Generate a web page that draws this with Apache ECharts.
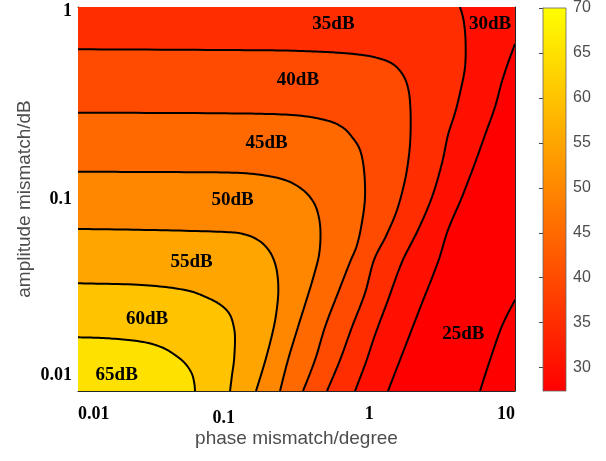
<!DOCTYPE html>
<html><head><meta charset="utf-8">
<script src="https://cdn.jsdelivr.net/npm/echarts@6/dist/echarts.min.js"></script>
<style>html,body{margin:0;padding:0;background:#fff}#c{width:606px;height:461px}</style>
</head><body><div id="c"></div>
<script>
// ---- axis extents and ticks ----
const X_MIN = 0.01, X_MAX = 10, Y_MIN = 0.01, Y_MAX = 1;
const CBAR_MIN = 27.4, CBAR_MAX = 70;
const xTickLabels = [0.01, 0.1, 1, 10];
const yTickLabels = [0.01, 0.1, 1];
const xTicks = [0.01,0.02,0.03,0.04,0.05,0.06,0.07,0.08,0.09,0.1,0.2,0.3,0.4,0.5,0.6,0.7,0.8,0.9,1,2,3,4,5,6,7,8,9,10];
const yTicks = [0.01,0.02,0.03,0.04,0.05,0.06,0.07,0.08,0.09,0.1,0.2,0.3,0.4,0.5,0.6,0.7,0.8,0.9,1];
const cbarTicks = [30,35,40,45,50,55,60,65,70];

// ---- contour levels (dB) and region below the lowest level ----
const levels = [25, 30, 35, 40, 45, 50, 55, 60, 65];
const belowLevel = 25;

// ---- contour lines: [phase mismatch (deg), amplitude mismatch (dB)] ----
const c25 = [[10,0.02979],[8.142,0.02181],[6.737,0.01450],[5.751,0.01]];
const c30 = [[10,0.6420],[8.953,0.5108],[8.077,0.4020],[7.290,0.3014],[6.225,0.2154],[5.313,0.1540],[4.326,0.1024],[3.4674,0.06896],[2.9606,0.04697],[2.2997,0.02873],[1.7577,0.01695],[1.3434,0.01]];
const c35 = [[4.1925,1],[4.4317,0.8556],[4.5739,0.6731],[4.5383,0.4870],[4.1925,0.3565],[3.8737,0.2805],[3.4674,0.2154],[3.1543,0.1540],[2.6929,0.1024],[2.1586,0.06896],[1.6758,0.04697],[1.3434,0.02979],[1.0937,0.01958],[0.9486,0.01416],[0.7975,0.01]];
const c40 = [[0.01,0.6023],[0.1021,0.5970],[0.2945,0.5921],[0.5812,0.5794],[0.8359,0.5657],[1.0937,0.5470],[1.4308,0.5077],[1.7022,0.4423],[1.8569,0.3696],[1.9164,0.2908],[1.9164,0.2154],[1.8715,0.1695],[1.7577,0.1256],[1.5485,0.08764],[1.3017,0.06417],[1.0764,0.04811],[0.9340,0.03238],[0.7603,0.02154],[0.6291,0.01450],[0.5122,0.01]];
const c45 = [[0.01,0.2815],[0.1021,0.2795],[0.2945,0.2738],[0.4962,0.2579],[0.6494,0.2371],[0.7603,0.2103],[0.8628,0.1800],[0.9192,0.1416],[0.9340,0.1024],[0.8907,0.07589],[0.8229,0.05759],[0.7368,0.04697],[0.6596,0.03785],[0.5905,0.03051],[0.4962,0.02154],[0.4236,0.01450],[0.3505,0.01]];
const c50 = [[0.01,0.1387],[0.03121,0.1382],[0.1021,0.1374],[0.1720,0.1341],[0.2636,0.1256],[0.3505,0.1114],[0.4169,0.09532],[0.4513,0.07962],[0.4622,0.06494],[0.4513,0.05109],[0.4169,0.04020],[0.3793,0.03162],[0.3237,0.02154],[0.2764,0.01450],[0.2436,0.01]];
const c55 = [[0.01,0.06981],[0.03121,0.06896],[0.1021,0.06733],[0.1401,0.06533],[0.1720,0.06116],[0.1984,0.05556],[0.2182,0.04929],[0.2324,0.04168],[0.2372,0.03277],[0.2287,0.02488],[0.2147,0.01958],[0.1953,0.01485],[0.1804,0.01211],[0.1667,0.01]];
const c60 = [[0.01,0.03639],[0.02737,0.03566],[0.05428,0.03357],[0.07805,0.03051],[0.09741,0.02772],[0.1106,0.02488],[0.1178,0.02128],[0.1196,0.01843],[0.1178,0.01450],[0.1141,0.01211],[0.1106,0.01]];
const c65 = [[0.01,0.01904],[0.01614,0.01881],[0.02737,0.01806],[0.03755,0.01689],[0.04634,0.01540],[0.05428,0.01394],[0.06034,0.01236],[0.06286,0.01097],[0.06356,0.01]];
const contourLines = [c25, c30, c35, c40, c45, c50, c55, c60, c65];

// ---- band labels: [phase, amplitude, text] ----
const bandLabels = [
  [0.01844, 0.01207, '65dB'],
  [0.02977, 0.02380, '60dB'],
  [0.06015, 0.04697, '55dB'],
  [0.1150, 0.09822, '50dB'],
  [0.1968, 0.1946, '45dB'],
  [0.3237, 0.4167, '40dB'],
  [0.5675, 0.8107, '35dB'],
  [6.737, 0.8155, '30dB'],
  [4.417, 0.01986, '25dB']
];

function fillColor(v) {
  const t = Math.max(0, Math.min(1, (v - CBAR_MIN) / (CBAR_MAX - CBAR_MIN)));
  return 'rgb(255,' + Math.round(255 * t) + ',0)';
}
function densify(pts, n) {
  const out = [];
  const L = pts.length;
  for (let i = 0; i < L - 1; i++) {
    const p0 = pts[Math.max(i - 1, 0)], p1 = pts[i], p2 = pts[i + 1], p3 = pts[Math.min(i + 2, L - 1)];
    for (let k = 0; k < n; k++) {
      const t = k / n, t2 = t * t, t3 = t2 * t;
      const f = (a, b, c, d) => 0.5 * ((2 * b) + (-a + c) * t + (2 * a - 5 * b + 4 * c - d) * t2 + (-a + 3 * b - 3 * c + d) * t3);
      out.push([f(p0[0], p1[0], p2[0], p3[0]), f(p0[1], p1[1], p2[1], p3[1])]);
    }
  }
  out.push(pts[L - 1]);
  return out;
}

const serif = '"Times New Roman","Liberation Serif",serif';
const sans = 'Arial,"Liberation Sans",Helvetica,sans-serif';
const axisColor = '#262626';
const grayText = '#4d4d4d';

function logAxis(pos, min, max, ticks, labels, extra) {
  const ax = {
    type: 'log', logBase: 10, min: min, max: max, position: pos, gridIndex: 0,
    axisLine: { show: true, onZero: false, lineStyle: { color: axisColor, width: 1 } },
    axisTick: { show: true, inside: true, length: 4, customValues: ticks, lineStyle: { color: axisColor, width: 1 } },
    splitLine: { show: false }, minorTick: { show: false }, minorSplitLine: { show: false },
    axisLabel: labels ? {
      customValues: labels, color: '#000', fontFamily: serif, fontWeight: 'bold', fontSize: 18
    } : { show: false }
  };
  return Object.assign(ax, extra || {});
}

const xAxes = [
  logAxis('bottom', X_MIN, X_MAX, xTicks, xTickLabels, {
    name: 'phase mismatch/degree', nameLocation: 'middle', nameGap: 38, nameMoveOverlap: false,
    nameTextStyle: { color: grayText, fontFamily: sans, fontSize: 19 }
  }),
  logAxis('top', X_MIN, X_MAX, xTicks, null),
  { type: 'value', gridIndex: 1, min: 0, max: 1, show: false }
];
Object.assign(xAxes[0].axisLabel, {
  margin: 14, alignMinLabel: 'left', alignMaxLabel: 'right',
  formatter: v => (v === 0.1 ? '{lo|' + v + '}' : String(v)),
  rich: { lo: { padding: [4, 0, 0, 0] } }
});

const yAxes = [
  logAxis('left', Y_MIN, Y_MAX, yTicks, yTickLabels, {
    name: 'amplitude mismatch/dB', nameLocation: 'middle', nameGap: 44, nameRotate: 90, nameMoveOverlap: false,
    nameTextStyle: { color: grayText, fontFamily: sans, fontSize: 19 }
  }),
  logAxis('right', Y_MIN, Y_MAX, yTicks, null),
  {
    type: 'value', gridIndex: 1, min: CBAR_MIN, max: CBAR_MAX, position: 'right',
    axisLine: { show: true, lineStyle: { color: '#666', width: 0.8 } },
    axisTick: { show: true, inside: true, length: 4, customValues: cbarTicks, lineStyle: { color: '#444' } },
    axisLabel: { customValues: cbarTicks, color: grayText, fontFamily: sans, fontSize: 16, margin: 7 },
    splitLine: { show: false }
  }
];
Object.assign(yAxes[0].axisLabel, {
  margin: 6, verticalAlignMinLabel: 'bottom',
  formatter: v => (v === Y_MIN ? '{lo|' + v + '}' : v === Y_MAX ? '{hi|' + v + '}' : String(v)),
  rich: { lo: { padding: [0, 0, 7, 0] }, hi: { padding: [9, 0, 0, 0] } }
});

const chart = echarts.init(document.getElementById('c'), null, { renderer: 'canvas' });
chart.setOption({
  animation: false,
  backgroundColor: '#fff',
  grid: [
    { left: 78, top: 7, width: 437, height: 384, containLabel: false },
    { left: 543, top: 7, width: 23, height: 384, containLabel: false }
  ],
  xAxis: xAxes,
  yAxis: yAxes,
  series: [
    {
      type: 'custom', coordinateSystem: 'cartesian2d', xAxisIndex: 0, yAxisIndex: 0,
      clip: true, silent: true, z: 1,
      data: [[1, 0.1, -1]].concat(contourLines.map((c, i) => [1, 0.1, i])),
      encode: { x: 0, y: 1 },
      renderItem: function (params, api) {
        const idx = api.value(2);
        const bl = api.coord([X_MIN, Y_MIN]), tl = api.coord([X_MIN, Y_MAX]), tr = api.coord([X_MAX, Y_MAX]), br = api.coord([X_MAX, Y_MIN]);
        if (idx < 0) {
          return { type: 'polygon', z2: 0, shape: { points: [bl, tl, tr, br] }, style: { fill: fillColor(belowLevel) } };
        }
        const line = contourLines[idx];
        const dense = densify(line.map(p => api.coord(p)), 14);
        const poly = dense.slice();
        poly.push(bl);
        const s = line[0];
        if (s[0] > X_MIN) { poly.push(tl); if (s[1] < Y_MAX) poly.push(tr); }
        return {
          type: 'group', children: [
            { type: 'polygon', z2: 2 * idx + 1, shape: { points: poly }, style: { fill: fillColor(levels[idx]) } },
            { type: 'polyline', z2: 100 + idx, shape: { points: dense }, style: { stroke: '#000', lineWidth: 2, fill: null } }
          ]
        };
      }
    },
    {
      type: 'custom', coordinateSystem: 'cartesian2d', xAxisIndex: 0, yAxisIndex: 0,
      silent: true, z: 5,
      data: bandLabels.map(l => [l[0], l[1]]),
      encode: { x: 0, y: 1 },
      renderItem: function (params, api) {
        const p = api.coord([api.value(0), api.value(1)]);
        return {
          type: 'text', x: p[0], y: p[1],
          style: { text: bandLabels[params.dataIndex][2], fill: '#000', align: 'center', verticalAlign: 'middle', font: 'bold 19px ' + serif }
        };
      }
    },
    {
      type: 'custom', coordinateSystem: 'cartesian2d', xAxisIndex: 2, yAxisIndex: 2,
      silent: true, z: 1,
      data: [[0.5, (CBAR_MIN + CBAR_MAX) / 2]],
      encode: { x: 0, y: 1 },
      renderItem: function (params, api) {
        const p0 = api.coord([0, CBAR_MAX]), p1 = api.coord([1, CBAR_MIN]);
        return {
          type: 'rect', shape: { x: p0[0], y: p0[1], width: p1[0] - p0[0], height: p1[1] - p0[1] },
          style: {
            fill: { type: 'linear', x: 0, y: 0, x2: 0, y2: 1, colorStops: [{ offset: 0, color: fillColor(CBAR_MAX) }, { offset: 1, color: fillColor(CBAR_MIN) }] },
            stroke: '#666', lineWidth: 0.8
          }
        };
      }
    }
  ]
});
</script></body></html>
